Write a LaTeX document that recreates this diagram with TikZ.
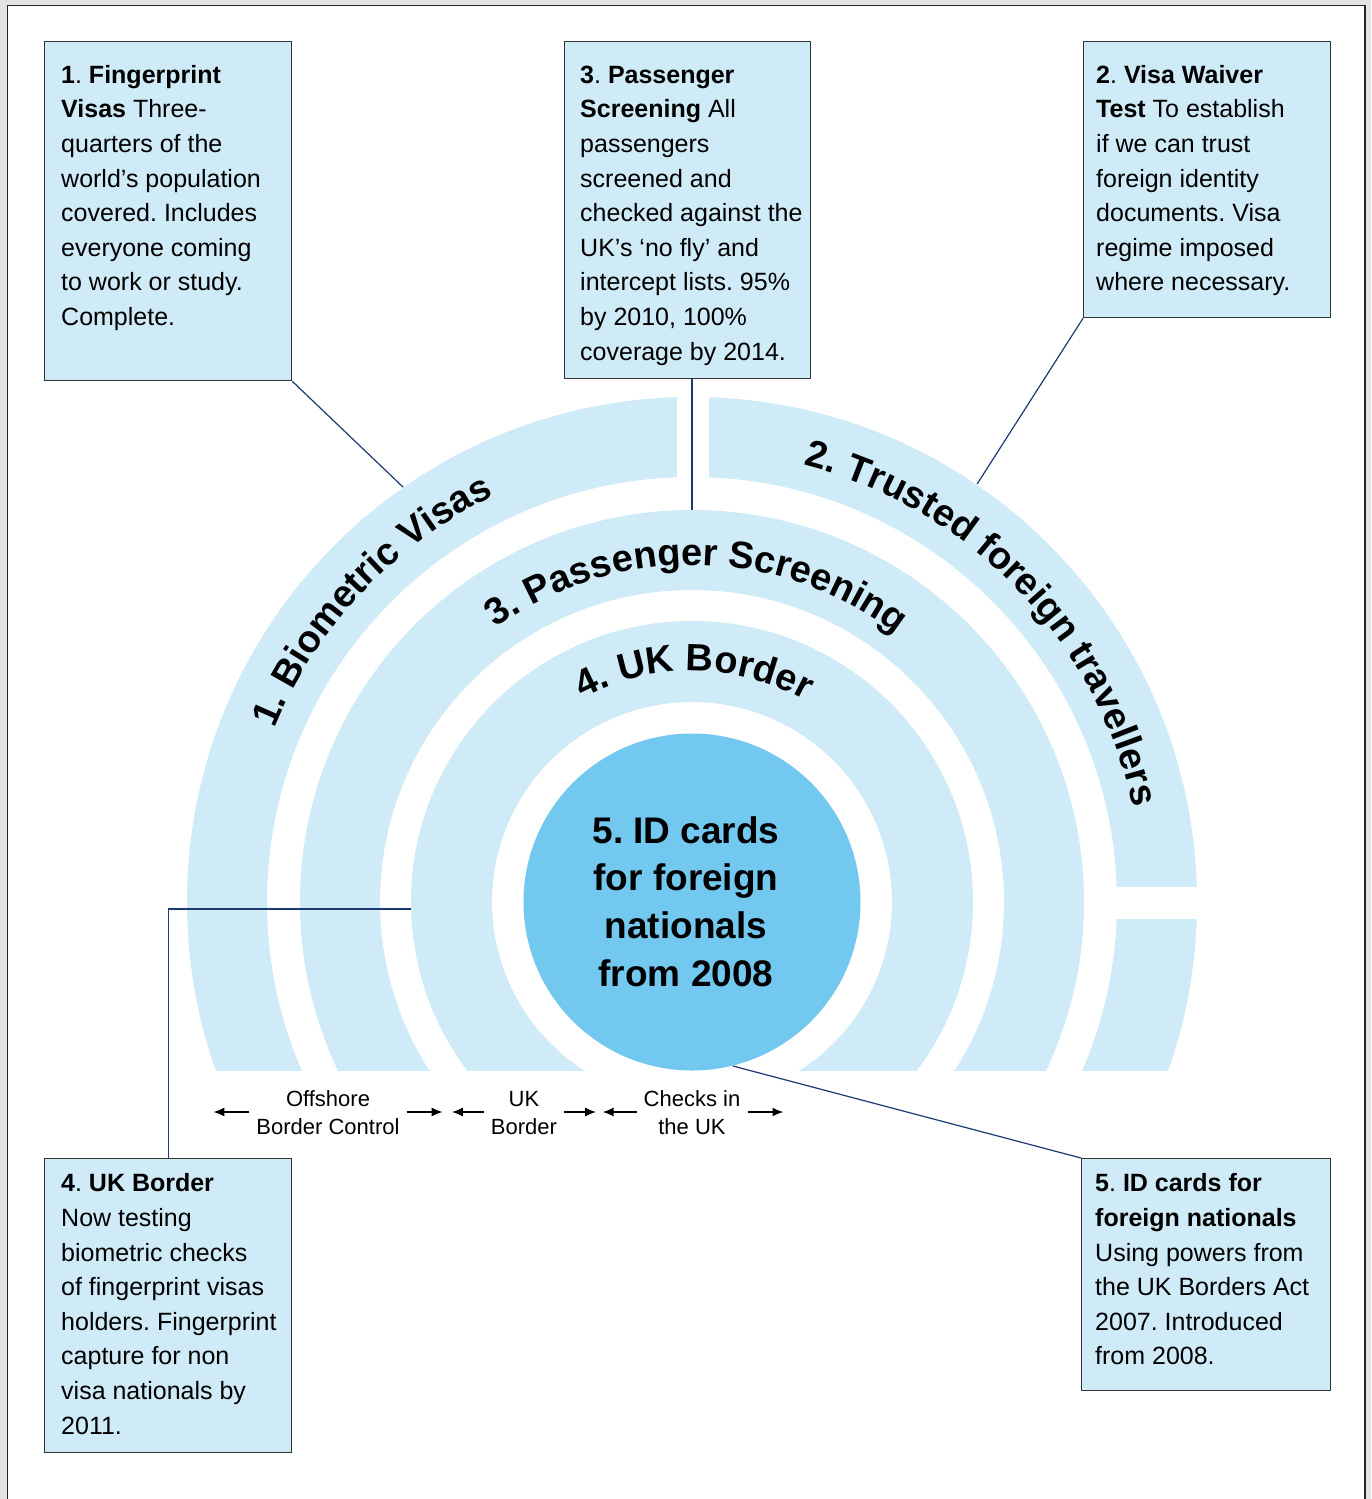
\documentclass[tikz,border=0pt]{standalone}
\usepackage{fontspec}
\setmainfont{Liberation Sans}
\usetikzlibrary{decorations.text, arrows.meta}
\definecolor{lb}{HTML}{D0EBF8}
\definecolor{cb}{HTML}{72C8EE}
\definecolor{navy}{HTML}{1B3A73}
\definecolor{bgray}{HTML}{E4E4E4}
\newcommand\ringfont{\bfseries\fontsize{38}{40}\selectfont}
\frenchspacing
\begin{document}
\begin{tikzpicture}[x=1pt,y=1pt,
  box/.style={draw=black!80, line width=1.3pt, fill=lb, anchor=north west, inner sep=0pt},
  btext/.style={anchor=north west, inner sep=0pt, align=left, font=\frenchspacing\fontsize{25}{34.6}\selectfont},
  conn/.style={draw=navy, line width=1.2pt},
  arr/.style={-{Latex[length=11pt,width=9pt]}, line width=1.8pt},
  lbl/.style={align=center, inner sep=0pt, font=\fontsize{22}{28}\selectfont},
  ringtext/.style={decorate, decoration={text along path, text align=left, text={#1}}}
]
\useasboundingbox (0,0) rectangle (1371,-1499);
\fill[bgray] (0,0) rectangle (1371,-1499);
\draw[fill=white, line width=1.5pt, draw=black!85] (7.5,-5.5) rectangle (1365,-1520);

% rings
\begin{scope}[shift={(692,-902)}]
  \begin{scope}
    \clip (-600,-168.5) rectangle (600,600);
    \fill[lb, even odd rule] (0,0) circle (505) (0,0) circle (425);
    \fill[lb, even odd rule] (0,0) circle (392) (0,0) circle (312);
    \fill[lb, even odd rule] (0,0) circle (281) (0,0) circle (200);
    \fill[white] (-15,410) rectangle (17,520);
    \fill[white] (410,15.3) rectangle (520,-17);
  \end{scope}
  \path[ringtext={|\ringfont|1. Biometric Visas}] (157.5:452) arc[start angle=157.5, end angle=95, radius=452];
  \path[ringtext={|\ringfont|2. Trusted foreign travellers}] (75.7:451) arc[start angle=75.7, end angle=-5, radius=451];
  \path[ringtext={|\ringfont|3. Passenger Screening}] (125.6:337) arc[start angle=125.6, end angle=40, radius=337];
  \path[ringtext={|\ringfont|4. UK Border}] (118.3:231) arc[start angle=118.3, end angle=40, radius=231];
  \coordinate (p1) at (124.85:505.5);
  \coordinate (p2) at (55.7:506);
  \coordinate (p3) at (90:392);
  \coordinate (p4) at (-281,-7);
  \coordinate (p5) at (-76:169);
\end{scope}

% centre circle
\node[circle, fill=cb, minimum size=337pt, inner sep=0pt] (circ) at (692,-902) {};
\node[align=center, inner sep=0pt, anchor=north, font=\bfseries\fontsize{37}{47.7}\selectfont] (ct) at (686,-809.5)
  {\strut 5. ID cards\\for foreign\\nationals\\from 2008};

% boxes
\node[box, minimum width=247pt, minimum height=339pt] (b1) at (44,-41) {};
\node[box, minimum width=246pt, minimum height=337pt] (b3) at (564,-41) {};
\node[box, minimum width=247pt, minimum height=276pt] (b2) at (1083,-41) {};
\node[box, minimum width=247pt, minimum height=294pt] (b4) at (44,-1158) {};
\node[box, minimum width=249pt, minimum height=232pt] (b5) at (1081,-1158) {};

\node[btext] (t1) at (61,-58.8) {\strut\textbf{1}. \textbf{Fingerprint}\\\textbf{Visas} Three-\\quarters of the\\world’s population\\covered. Includes\\everyone coming\\to work or study.\\Complete.};
\node[btext] (t3) at (580,-58.8) {\strut\textbf{3}. \textbf{Passenger}\\\textbf{Screening} All\\passengers\\screened and\\checked against the\\UK’s ‘no fly’ and\\intercept lists. 95\%\\by 2010, 100\%\\coverage by 2014.};
\node[btext] (t2) at (1096,-58.8) {\strut\textbf{2}. \textbf{Visa Waiver}\\\textbf{Test} To establish\\if we can trust\\foreign identity\\documents. Visa\\regime imposed\\where necessary.};
\node[btext] (t4) at (61,-1167.5) {\strut\textbf{4}. \textbf{UK Border}\\Now testing\\biometric checks\\of fingerprint visas\\holders. Fingerprint\\capture for non\\visa nationals by\\2011.};
\node[btext] (t5) at (1095,-1167.5) {\strut\textbf{5}. \textbf{ID cards for}\\\textbf{foreign nationals}\\Using powers from\\the UK Borders Act\\2007. Introduced\\from 2008.};

% connectors
\draw[conn] (b1.south east) -- (p1);
\draw[conn] (p3 |- b3.south) -- (p3);
\draw[conn] (b2.south west) -- (p2);
\draw[conn] (b4.north) |- (p4);
\draw[conn] (b5.north west) -- (p5);

% bottom labels
\node[lbl] (off) at (328,-1113) {Offshore\\Border Control};
\node[lbl] (ukb) at (524,-1113) {UK\\Border};
\node[lbl] (chk) at (692,-1113) {Checks in\\the UK};
\draw[arr] ([xshift=-7pt,yshift=1pt]off.west) -- ++(-36,0);
\draw[arr] ([xshift=7pt,yshift=1pt]off.east) -- ++(36,0);
\draw[arr] ([xshift=-7pt,yshift=1pt]ukb.west) -- ++(-32,0);
\draw[arr] ([xshift=7pt,yshift=1pt]ukb.east) -- ++(32,0);
\draw[arr] ([xshift=-7pt,yshift=1pt]chk.west) -- ++(-34,0);
\draw[arr] ([xshift=7pt,yshift=1pt]chk.east) -- ++(36,0);
\end{tikzpicture}
\end{document}
